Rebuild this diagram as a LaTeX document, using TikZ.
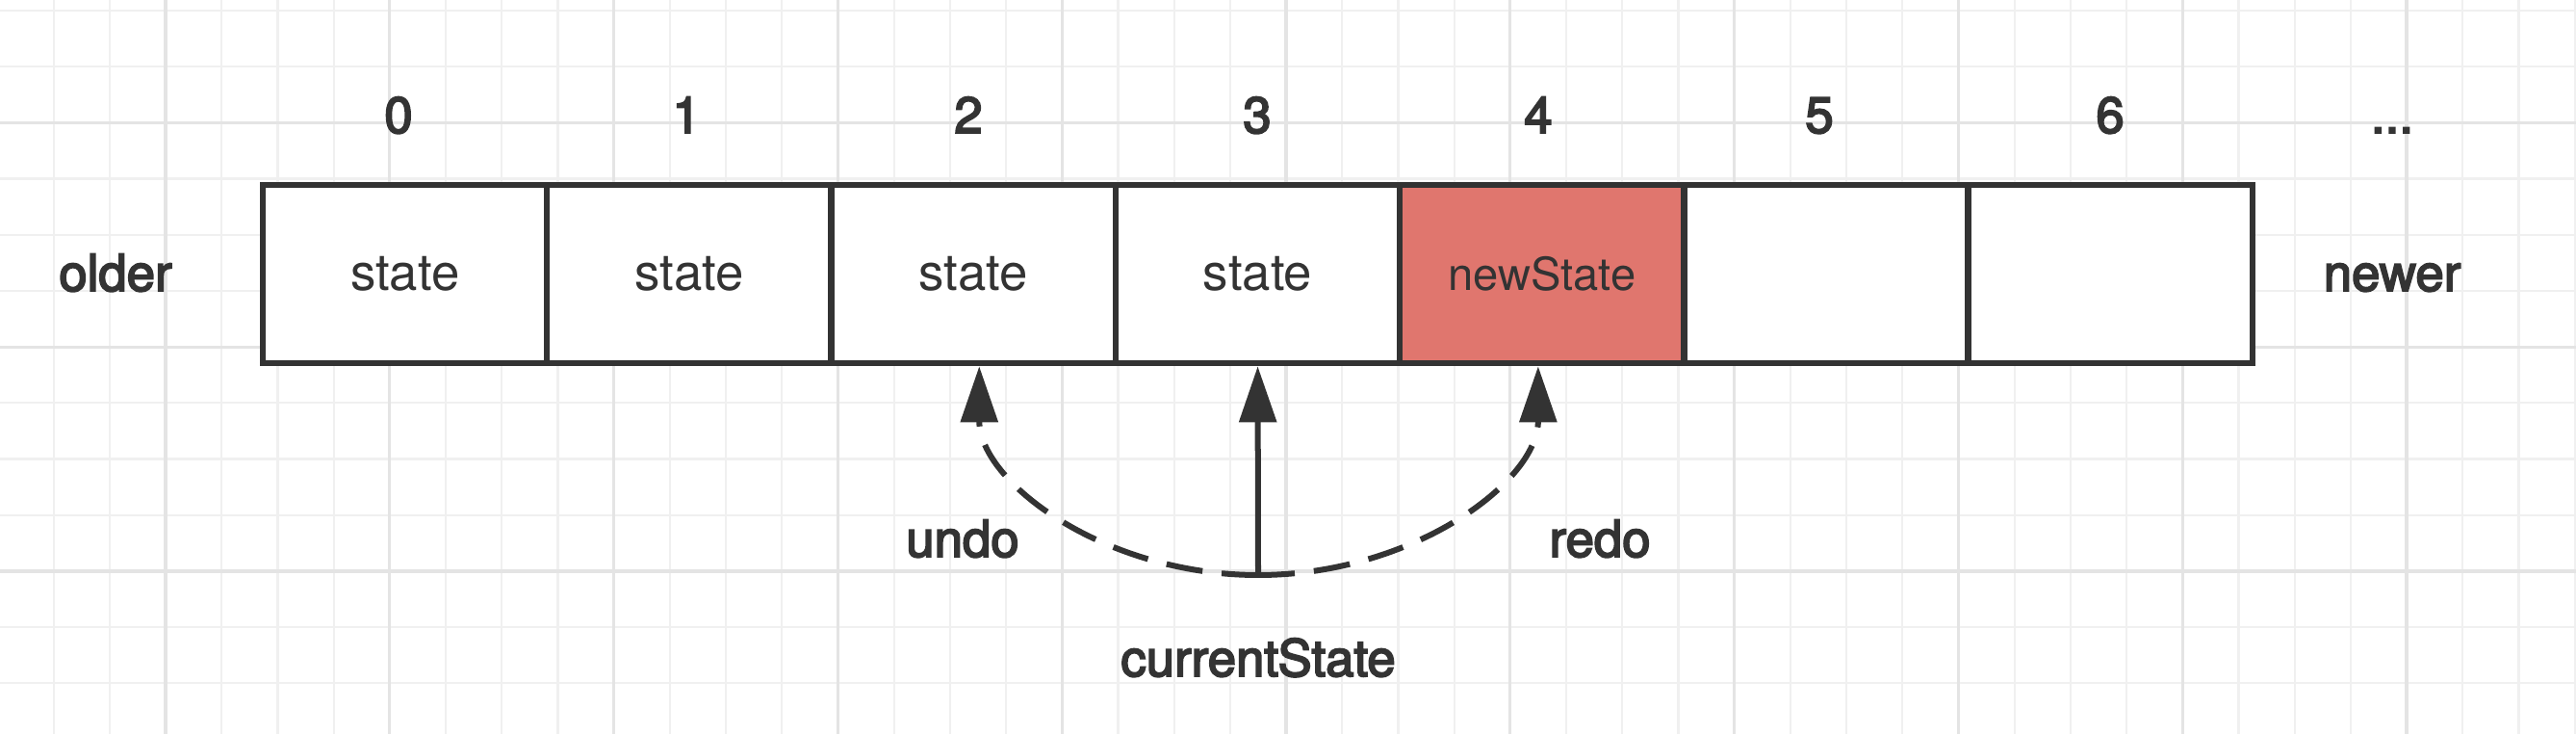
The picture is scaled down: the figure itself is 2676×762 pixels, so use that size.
\documentclass[tikz,border=0pt]{standalone}
\usepackage{fontspec}
\setmainfont{TeX Gyre Heros}
\newfontfamily\hvmed[FakeBold=3.5]{TeX Gyre Heros}
\usetikzlibrary{arrows.meta}
\definecolor{ink}{HTML}{333333}
\definecolor{salmon}{RGB}{224,118,110}
\definecolor{gminor}{HTML}{F0F0F0}
\definecolor{gmajor}{HTML}{E4E4E4}
\begin{document}
\begin{tikzpicture}[x=0.01cm,y=-0.01cm,
  gridminor/.style={draw=gminor, line width=0.022cm},
  gridmajor/.style={draw=gmajor, line width=0.032cm},
  cell/.style={draw=ink, line width=0.065cm, fill=white, minimum width=2.953cm, minimum height=1.85cm, inner sep=0pt, text=ink, font=\fontsize{15}{18}\selectfont},
  hot/.style={cell, fill=salmon, font=\fontsize{13.4}{16}\selectfont},
  lbl/.style={text=ink, font=\hvmed\fontsize{15}{18}\selectfont, inner sep=0pt, anchor=base},
  solidarrow/.style={draw=ink, line width=0.06cm, -{Triangle[length=0.58cm,width=0.38cm]}},
  dasharrow/.style={solidarrow, dash pattern=on 0.38cm off 0.2cm},
]
\useasboundingbox (0,0) rectangle (2676,762);
\fill[white] (0,0) rectangle (2676,762);
% grid
\foreach \k in {0,...,46} \draw[gridminor] ({-2.6+58.2*\k},0) -- ({-2.6+58.2*\k},762);
\foreach \k in {0,...,12} \draw[gridminor] (0,{11+58.2*\k}) -- (2676,{11+58.2*\k});
\foreach \k in {0,...,10} \draw[gridmajor] ({172+232.8*\k},0) -- ({172+232.8*\k},762);
\foreach \k in {0,...,2} \draw[gridmajor] (0,{127.4+232.8*\k}) -- (2676,{127.4+232.8*\k});
% cells
\node[cell] (c0) at (420.65,284.5) {state};
\node[cell] (c1) at (715.95,284.5) {state};
\node[cell] (c2) at (1011.25,284.5) {state};
\node[cell] (c3) at (1306.55,284.5) {state};
\node[hot]  (c4) at (1601.85,284.5) {newState};
\node[cell] (c5) at (1897.15,284.5) {};
\node[cell] (c6) at (2192.45,284.5) {};
% indices
\node[lbl] (i0) at (414,138) {0};
\node[lbl] (i1) at (713,138) {1};
\node[lbl] (i2) at (1006,138) {2};
\node[lbl] (i3) at (1306,138) {3};
\node[lbl] (i4) at (1598,138) {4};
\node[lbl] (i5) at (1890,138) {5};
\node[lbl] (i6) at (2192,138) {6};
\node[lbl] (dots) at (2485,138) {...};
% side labels
\node[lbl] (older) at (120,302) {older};
\node[lbl] (newer) at (2485,302) {newer};
% pointer labels
\node[lbl] (undo) at (1000,578) {undo};
\node[lbl] (redo) at (1662,578) {redo};
\node[lbl] (cur) at (1307,702) {currentState};
% arrows
\coordinate (cs) at (1307,597);
\draw[solidarrow] (cs) -- (c3.south);
\draw[dasharrow] (cs) .. controls +(-160,0) and +(0,120) .. ([xshift=0.06cm]c2.south);
\draw[dasharrow] (cs) .. controls +(160,0) and +(0,120) .. ([xshift=-0.04cm]c4.south);
\end{tikzpicture}
\end{document}
